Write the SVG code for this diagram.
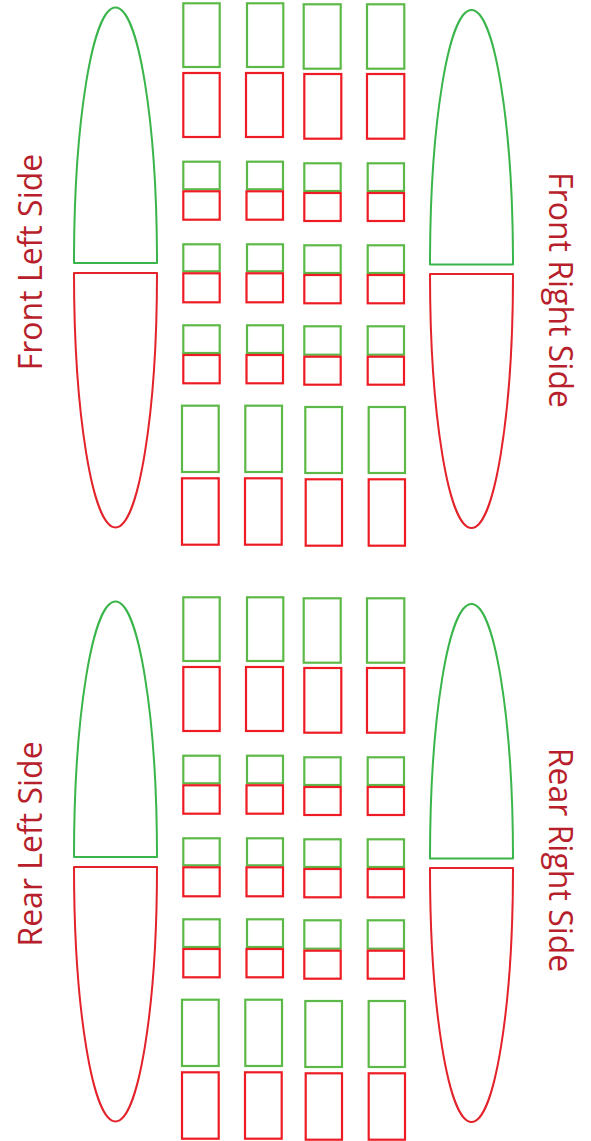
<svg xmlns="http://www.w3.org/2000/svg" width="591" height="1141" viewBox="0 0 591 1141">
<style>
.g{fill:none;stroke:#5cb947;stroke-width:2.2}
.r{fill:none;stroke:#ed1c24;stroke-width:2.2}
.ge{fill:none;stroke:#39b54a;stroke-width:2;stroke-linejoin:round}
.re{fill:none;stroke:#e3222a;stroke-width:2;stroke-linejoin:round}
.t{font-family:"Open Sans","Liberation Sans",sans-serif;font-size:32px;fill:#b81f2c;text-anchor:middle}
</style>
<defs>
<g id="half">
<g id="wheels">
<path class="ge" d="M74,263 A41.5,255.5 0 0 1 157,263 Z"/>
<path class="re" d="M157,273 L74,273 A41.5,254.5 0 0 0 157,273 Z" transform="translate(0,0)"/>
<path class="ge" d="M430,264.5 A41.5,254.5 0 0 1 513,264.5 Z"/>
<path class="re" d="M513,274 L430,274 A41.5,254 0 0 0 513,274 Z"/>
</g>
<g id="seats">
<!-- row A -->
<rect class="g" x="183.3" y="3.3" width="36.4" height="63.7"/>
<rect class="g" x="247" y="3.3" width="36.3" height="63.7"/>
<rect class="g" x="303.7" y="4.3" width="37" height="64.4"/>
<rect class="g" x="367" y="4.3" width="37.3" height="64.4"/>
<rect class="r" x="183.3" y="73" width="36.4" height="64"/>
<rect class="r" x="246" y="73" width="37" height="64"/>
<rect class="r" x="304.3" y="74" width="37" height="64.7"/>
<rect class="r" x="367" y="74" width="37.3" height="64.7"/>
<!-- small row 1 -->
<rect class="g" x="183.3" y="161.7" width="36.4" height="27.6"/>
<rect class="g" x="247" y="161.7" width="36" height="27.6"/>
<rect class="g" x="304.3" y="163.3" width="36.4" height="27.7"/>
<rect class="g" x="367.7" y="163.3" width="36.3" height="27.7"/>
<rect class="r" x="183.3" y="191.3" width="36.4" height="28.4"/>
<rect class="r" x="246.5" y="191.3" width="36.5" height="28.4"/>
<rect class="r" x="304.3" y="193" width="36.4" height="28"/>
<rect class="r" x="367.7" y="193" width="36.3" height="28"/>
<!-- small row 2 -->
<rect class="g" x="183.3" y="244.3" width="36.4" height="27"/>
<rect class="g" x="247" y="244.3" width="36" height="27"/>
<rect class="g" x="304.3" y="245.3" width="36.4" height="27.7"/>
<rect class="g" x="367.7" y="245.3" width="36.3" height="27.7"/>
<rect class="r" x="183.3" y="273.3" width="36.4" height="29"/>
<rect class="r" x="246.5" y="273.3" width="36.5" height="29"/>
<rect class="r" x="304.3" y="275" width="36.4" height="28.3"/>
<rect class="r" x="367.7" y="275" width="36.3" height="28.3"/>
<!-- small row 3 -->
<rect class="g" x="183.3" y="325.3" width="36.4" height="27.7"/>
<rect class="g" x="247" y="325.3" width="36" height="27.7"/>
<rect class="g" x="304.3" y="326.3" width="36.4" height="28.4"/>
<rect class="g" x="367.7" y="326.3" width="36.3" height="28.4"/>
<rect class="r" x="183.3" y="355" width="36.4" height="28.3"/>
<rect class="r" x="246.5" y="355" width="36.5" height="28.3"/>
<rect class="r" x="304.3" y="356.7" width="36.4" height="28"/>
<rect class="r" x="367.7" y="356.7" width="36.3" height="28"/>
<!-- row E -->
<rect class="g" x="182" y="405.7" width="36.7" height="66.3"/>
<rect class="g" x="245.3" y="405.7" width="36.7" height="66.3"/>
<rect class="g" x="305.3" y="407" width="36.7" height="66"/>
<rect class="g" x="368.7" y="407" width="36.3" height="66"/>
<rect class="r" x="182" y="478.3" width="36.7" height="66.4"/>
<rect class="r" x="245" y="478.3" width="36.7" height="66.4"/>
<rect class="r" x="305.7" y="479.3" width="36.3" height="66.4"/>
<rect class="r" x="368.7" y="479.3" width="36.3" height="66.4"/>
</g>
</g>
</defs>
<g id="front">
<use href="#half"/>
</g>
<g id="rear">
<use href="#half" transform="translate(0,594)"/>
</g>
<g id="labels">
<text class="t" transform="translate(42,262) rotate(-90)">Front Left Side</text>
<text class="t" transform="translate(549,290) rotate(90)">Front Right Side</text>
<text class="t" transform="translate(42,844) rotate(-90)">Rear Left Side</text>
<text class="t" transform="translate(549,860) rotate(90)">Rear Right Side</text>
</g>
<g id="connectors"/>
</svg>
